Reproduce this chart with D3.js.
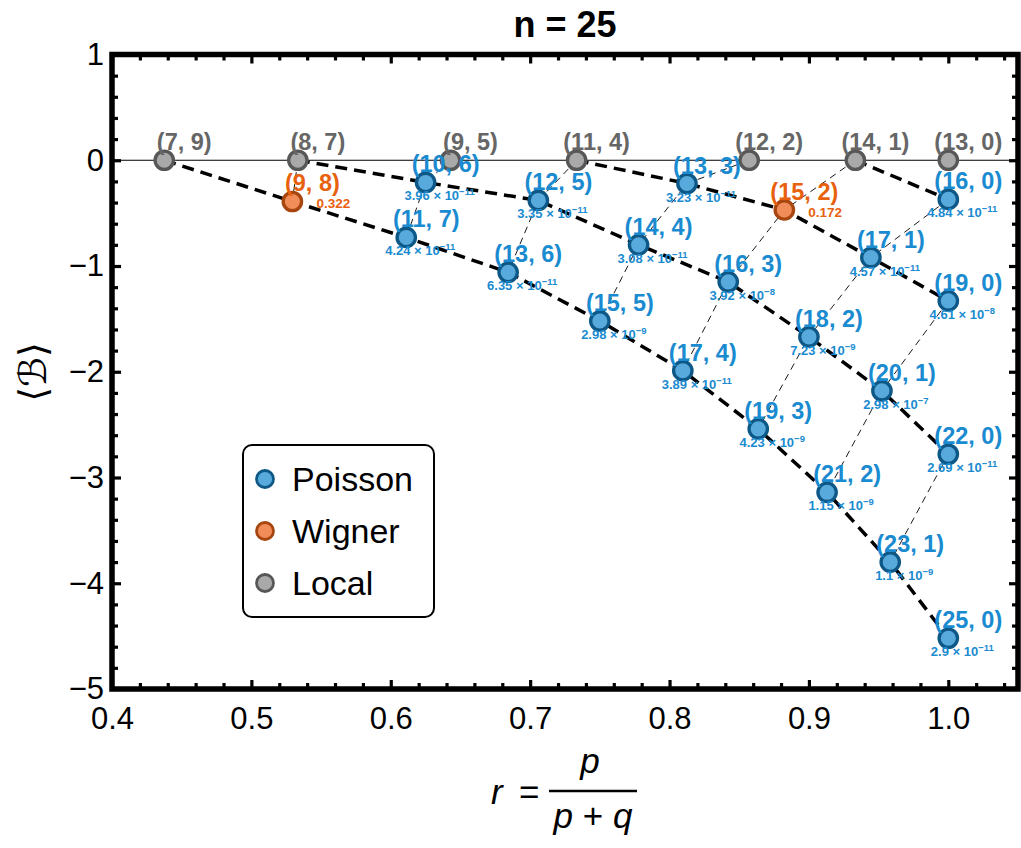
<!DOCTYPE html>
<html>
<head>
<meta charset="utf-8">
<script src="https://cdn.jsdelivr.net/npm/d3@7"></script>
<style>
  body { margin: 0; background: #fff; }
  svg { display: block; font-family: "Liberation Sans", Arial, sans-serif; }
</style>
</head>
<body>
<div id="chart"></div>
<script>
// (p, q) pairs for each kind of point
var localPts = [[7, 9], [8, 7], [9, 5], [11, 4], [12, 2], [14, 1], [13, 0]];
var localB = [0, 0, 0, 0, 0, 0, 0];

var wignerPts = [[9, 8], [15, 2]];
var wignerB = [-0.39, -0.47];
var wignerProb = ['0.322', '0.172'];

var poissonPts = [[10, 6], [11, 7], [12, 5], [13, 6], [13, 3], [14, 4], [15, 5], [16, 3], [17, 4],
    [16, 0], [17, 1], [18, 2], [19, 3], [19, 0], [20, 1], [21, 2], [22, 0], [23, 1], [25, 0]];
var poissonB = [-0.21, -0.73, -0.38, -1.06, -0.22, -0.80, -1.52, -1.15, -1.99,
    -0.37, -0.92, -1.67, -2.54, -1.33, -2.18, -3.14, -2.78, -3.80, -4.52];
var poissonMant = ['3.96', '4.24', '3.35', '6.35', '3.23', '3.08', '2.98', '3.92', '3.89',
    '4.84', '4.57', '7.23', '4.23', '4.61', '2.98', '1.15', '2.69', '1.1', '2.9'];
var poissonExp = ['−11', '−11', '−11', '−11', '−11', '−11', '−9', '−8', '−11',
    '−11', '−11', '−9', '−9', '−8', '−7', '−9', '−11', '−9', '−11'];

// thick dashed chains and thin dashed chains, by (p, q) keys
var thickChains = [
    [[7, 9], [9, 8], [11, 7], [13, 6], [15, 5], [17, 4], [19, 3], [21, 2], [23, 1], [25, 0]],
    [[8, 7], [10, 6], [12, 5], [14, 4], [16, 3], [18, 2], [20, 1], [22, 0]],
    [[11, 4], [13, 3], [15, 2], [17, 1], [19, 0]],
    [[14, 1], [16, 0]]
];
var thinChains = [
    [[8, 7], [9, 8]],
    [[9, 5], [10, 6], [11, 7]],
    [[11, 4], [12, 5], [13, 6]],
    [[12, 2], [13, 3], [14, 4], [15, 5]],
    [[14, 1], [15, 2], [16, 3], [17, 4]],
    [[16, 0], [17, 1], [18, 2], [19, 3]],
    [[19, 0], [20, 1], [21, 2]],
    [[22, 0], [23, 1]]
];

var xTicks = [0.4, 0.5, 0.6, 0.7, 0.8, 0.9, 1.0];
var yTicks = [1, 0, -1, -2, -3, -4, -5];
var legendItems = ['Poisson', 'Wigner', 'Local'];

var styles = {
    Poisson: { fill: '#58a9dc', stroke: '#0d5886', text: '#1a8bd0' },
    Wigner: { fill: '#f08d58', stroke: '#a8460f', text: '#e8610e' },
    Local: { fill: '#a9a9a9', stroke: '#575757', text: '#666666' }
};

(function() {
    var width = 1021, height = 848;
    var plotL = 112, plotR = 1018, plotT = 54.5, plotB = 689;
    var font = '"Liberation Sans", Arial, sans-serif';

    var svg = d3.select('#chart').append('svg')
        .attr('width', width)
        .attr('height', height);

    var x = d3.scaleLinear().domain([0.4, 1.05]).range([plotL, plotR]);
    var y = d3.scaleLinear().domain([-5, 1]).range([plotB, plotT]);

    function ratio(d) {
        return d.p / (d.p + d.q);
    }

    var points = [];
    localPts.forEach(function(pq, i) {
        points.push({ p: pq[0], q: pq[1], b: localB[i], type: 'Local' });
    });
    wignerPts.forEach(function(pq, i) {
        points.push({ p: pq[0], q: pq[1], b: wignerB[i], type: 'Wigner', prob: wignerProb[i] });
    });
    poissonPts.forEach(function(pq, i) {
        points.push({ p: pq[0], q: pq[1], b: poissonB[i], type: 'Poisson', mant: poissonMant[i], exp: poissonExp[i] });
    });

    var byKey = {};
    points.forEach(function(d) {
        byKey[d.p + ',' + d.q] = d;
    });

    var line = d3.line()
        .x(function(k) { return x(ratio(byKey[k[0] + ',' + k[1]])); })
        .y(function(k) { return y(byKey[k[0] + ',' + k[1]].b); });

    // zero line
    svg.append('line')
        .attr('x1', plotL).attr('x2', plotR)
        .attr('y1', y(0)).attr('y2', y(0))
        .attr('stroke', '#000')
        .attr('stroke-width', 1.2);

    svg.append('g')
        .selectAll('path')
        .data(thinChains)
        .enter().append('path')
        .attr('d', line)
        .attr('fill', 'none')
        .attr('stroke', '#000')
        .attr('stroke-width', 0.9)
        .attr('stroke-dasharray', '7,5');

    svg.append('g')
        .selectAll('path')
        .data(thickChains)
        .enter().append('path')
        .attr('d', line)
        .attr('fill', 'none')
        .attr('stroke', '#000')
        .attr('stroke-width', 3.5)
        .attr('stroke-dasharray', '12,7');

    // axes: ticks point inward
    var xMinor = d3.range(0.42, 1.05, 0.02).filter(function(v) {
        return Math.abs(v * 10 - Math.round(v * 10)) > 1e-6;
    });
    var yMinor = d3.range(-4.8, 1, 0.2).filter(function(v) {
        return Math.abs(v - Math.round(v)) > 1e-6;
    });

    function styleAxis(g) {
        g.attr('font-family', font).attr('font-size', 31);
        g.select('.domain').remove();
        g.selectAll('line').attr('stroke', '#000').attr('stroke-width', 3.2);
        g.selectAll('text').attr('fill', '#000');
    }

    svg.append('g')
        .attr('transform', 'translate(0,' + plotB + ')')
        .call(d3.axisBottom(x).tickValues(xTicks).tickSize(-9).tickPadding(18).tickFormat(d3.format('.1f')))
        .call(styleAxis);
    svg.append('g')
        .attr('transform', 'translate(0,' + plotB + ')')
        .call(d3.axisBottom(x).tickValues(xMinor).tickSize(-6).tickFormat(''))
        .call(styleAxis);
    svg.append('g')
        .attr('transform', 'translate(0,' + plotT + ')')
        .call(d3.axisTop(x).tickValues(xTicks).tickSize(-9).tickFormat(''))
        .call(styleAxis);
    svg.append('g')
        .attr('transform', 'translate(0,' + plotT + ')')
        .call(d3.axisTop(x).tickValues(xMinor).tickSize(-6).tickFormat(''))
        .call(styleAxis);

    svg.append('g')
        .attr('transform', 'translate(' + plotL + ',0)')
        .call(d3.axisLeft(y).tickValues(yTicks).tickSize(-9).tickPadding(8).tickFormat(d3.format('d')))
        .call(styleAxis);
    svg.append('g')
        .attr('transform', 'translate(' + plotL + ',0)')
        .call(d3.axisLeft(y).tickValues(yMinor).tickSize(-6).tickFormat(''))
        .call(styleAxis);
    svg.append('g')
        .attr('transform', 'translate(' + plotR + ',0)')
        .call(d3.axisRight(y).tickValues(yTicks).tickSize(-9).tickFormat(''))
        .call(styleAxis);
    svg.append('g')
        .attr('transform', 'translate(' + plotR + ',0)')
        .call(d3.axisRight(y).tickValues(yMinor).tickSize(-6).tickFormat(''))
        .call(styleAxis);

    svg.append('rect')
        .attr('x', plotL).attr('y', plotT)
        .attr('width', plotR - plotL).attr('height', plotB - plotT)
        .attr('fill', 'none')
        .attr('stroke', '#000')
        .attr('stroke-width', 5.5);

    // markers
    svg.append('g')
        .selectAll('circle')
        .data(points)
        .enter().append('circle')
        .attr('cx', function(d) { return x(ratio(d)); })
        .attr('cy', function(d) { return y(d.b); })
        .attr('r', 9.2)
        .attr('fill', function(d) { return styles[d.type].fill; })
        .attr('stroke', function(d) { return styles[d.type].stroke; })
        .attr('stroke-width', 3.3);

    // (p, q) labels
    svg.append('g')
        .selectAll('text')
        .data(points)
        .enter().append('text')
        .attr('x', function(d) { return x(ratio(d)) + 20; })
        .attr('y', function(d) { return y(d.b) - 10; })
        .attr('text-anchor', 'middle')
        .attr('font-size', 23.5)
        .attr('font-weight', 'bold')
        .attr('fill', function(d) { return styles[d.type].text; })
        .text(function(d) { return '(' + d.p + ', ' + d.q + ')'; });

    // probability labels
    var probs = svg.append('g')
        .selectAll('text')
        .data(points.filter(function(d) { return d.type === 'Poisson'; }))
        .enter().append('text')
        .attr('x', function(d) { return x(ratio(d)) + 14; })
        .attr('y', function(d) { return y(d.b) + 18; })
        .attr('text-anchor', 'middle')
        .attr('font-size', 13)
        .attr('font-weight', 'bold')
        .attr('fill', styles.Poisson.text);
    probs.append('tspan').text(function(d) { return d.mant + ' × 10'; });
    probs.append('tspan')
        .attr('dy', -5)
        .attr('font-size', 9.5)
        .text(function(d) { return d.exp; });

    svg.append('g')
        .selectAll('text')
        .data(points.filter(function(d) { return d.type === 'Wigner'; }))
        .enter().append('text')
        .attr('x', function(d) { return x(ratio(d)) + 24; })
        .attr('y', function(d) { return y(d.b) + 7; })
        .attr('font-size', 13.5)
        .attr('font-weight', 'bold')
        .attr('fill', styles.Wigner.text)
        .text(function(d) { return d.prob; });

    // legend
    var legend = svg.append('g').attr('transform', 'translate(243,445)');
    legend.append('rect')
        .attr('width', 191).attr('height', 172)
        .attr('rx', 9)
        .attr('fill', '#fff')
        .attr('stroke', '#000')
        .attr('stroke-width', 2);
    var item = legend.selectAll('g.item')
        .data(legendItems)
        .enter().append('g')
        .attr('class', 'item')
        .attr('transform', function(d, i) { return 'translate(22,' + (34 + i * 52) + ')'; });
    item.append('circle')
        .attr('r', 8.5)
        .attr('fill', function(d) { return styles[d].fill; })
        .attr('stroke', function(d) { return styles[d].stroke; })
        .attr('stroke-width', 2.8);
    item.append('text')
        .attr('x', 27)
        .attr('dy', '0.36em')
        .attr('font-size', 34)
        .text(function(d) { return d; });

    // title
    svg.append('text')
        .attr('x', (plotL + plotR) / 2)
        .attr('y', 37)
        .attr('text-anchor', 'middle')
        .attr('font-size', 36)
        .attr('font-weight', 'bold')
        .text('n = 25');

    // y label
    svg.append('text')
        .attr('transform', 'translate(46,372) rotate(-90)')
        .attr('text-anchor', 'middle')
        .attr('font-family', '"DejaVu Sans", sans-serif')
        .attr('font-size', 38)
        .text('⟨ℬ⟩');

    // x label: r = p / (p + q)
    var xl = svg.append('g').attr('font-size', 35);
    xl.append('text').attr('x', 491).attr('y', 804).attr('font-style', 'italic').text('r');
    xl.append('text').attr('x', 519).attr('y', 804).text('=');
    xl.append('line')
        .attr('x1', 549).attr('x2', 637)
        .attr('y1', 791).attr('y2', 791)
        .attr('stroke', '#000')
        .attr('stroke-width', 2.5);
    xl.append('text').attr('x', 590).attr('y', 773).attr('text-anchor', 'middle')
        .attr('font-style', 'italic').text('p');
    var den = xl.append('text').attr('x', 593).attr('y', 828).attr('text-anchor', 'middle');
    den.append('tspan').attr('font-style', 'italic').text('p');
    den.append('tspan').text(' + ');
    den.append('tspan').attr('font-style', 'italic').text('q');
})();
</script>
</body>
</html>
